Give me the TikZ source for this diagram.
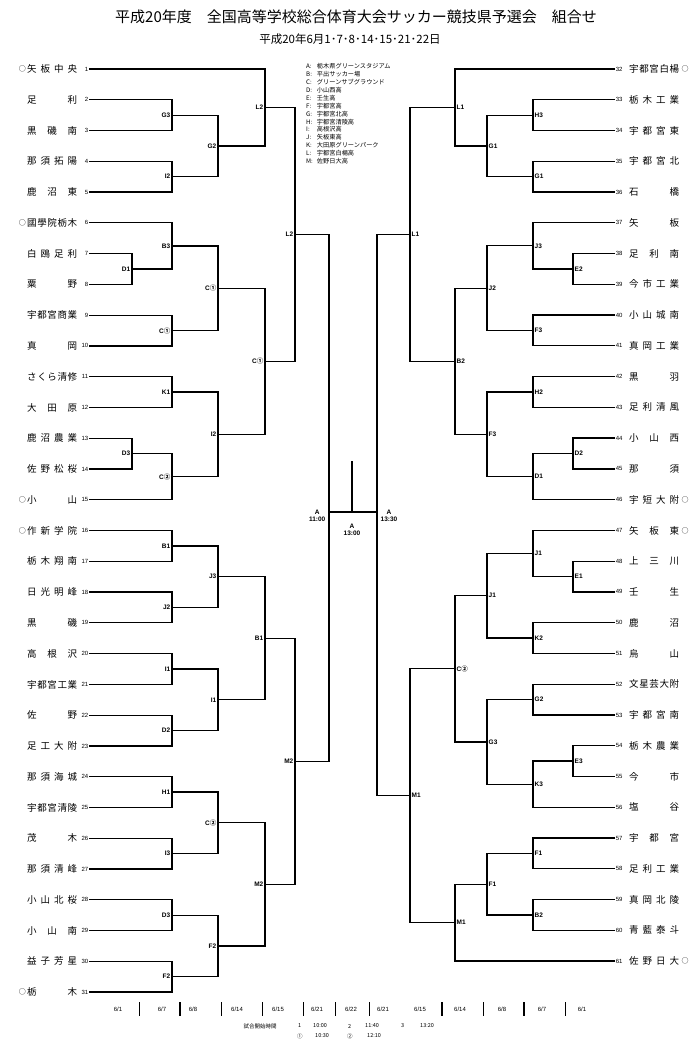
\documentclass[tikz,border=0pt]{standalone}
\usepackage{fontspec}
\setmainfont{Liberation Sans}
\newfontfamily\jp{Noto Sans CJK JP}
\usetikzlibrary{positioning}
\usetikzlibrary{calc}

% spread the characters of a name over a fixed width
\def\sprchar#1#2{#1\ifx\relax#2\else\hfill\expandafter\sprchar\fi#2}
\newcommand\spreadname[2]{\makebox[#1][s]{\expandafter\sprchar#2\relax}}

% match: name, x of the bracket, first entry, second entry, label
\newcommand\match[5]{%
  \path let \p1=(#3), \p2=(#4) in coordinate[label={[lbl]#5}] (#1) at (#2pt,{0.5*\y1+0.5*\y2});
  \draw[bracket] (#3) -| (#1);
  \draw[bracket] (#4) -| (#1);
}

\begin{document}
\begin{tikzpicture}[x=1pt, y=-1pt, label distance=1pt,
                          bracket/.style={line width=1.25pt},
                          num/.style={font=\fontsize{6}{6}\selectfont, inner sep=0.6pt},
                          team/.style={font=\jp\fontsize{9.5}{10}\selectfont, inner sep=0pt},
                          seed/.style={font=\jp\fontsize{7}{7}\selectfont, inner sep=0pt},
                          lbl/.style={font=\bfseries\fontsize{6.5}{7}\selectfont, inner sep=0.5pt},
                          datetext/.style={font=\fontsize{6}{7}\selectfont, inner sep=0pt},
                          timetext/.style={font=\jp\fontsize{5.5}{6}\selectfont, inner sep=0pt, anchor=west},
                          tick/.style={line width=0.6pt},
                          thicktick/.style={line width=1.4pt},
                      ]
                      \useasboundingbox (0,0) rectangle (700,1056);

                      % Title
                      \node[font=\jp\fontsize{15}{16}\selectfont] (title) at (356,17) {平成20年度　全国高等学校総合体育大会サッカー競技県予選会　組合せ};
                      \node[font=\jp\fontsize{11.5}{12}\selectfont] (days) at (350,39) {平成20年6月1･7･8･14･15･21･22日};

                      % Venues
                      \node[anchor=north west, inner sep=0pt, font=\jp\fontsize{6.2}{7.9}\selectfont] (venues) at (306,63) {%
                        \begin{tabular}{@{}l@{\hspace{4pt}}l@{}}
                          A: & 栃木県グリーンスタジアム\\
                          B: & 平出サッカー場\\
                          C: & グリーンサブグラウンド\\
                          D: & 小山西高\\
                          E: & 壬生高\\
                          F: & 宇都宮高\\
                          G: & 宇都宮北高\\
                          H: & 宇都宮清陵高\\
                          I: & 高根沢高\\
                          J: & 矢板東高\\
                          K: & 大田原グリーンパーク\\
                          L: & 宇都宮白楊高\\
                          M: & 佐野日大高
                        \end{tabular}};

                      % Teams, left
                      \foreach \n/\nm/\sd in {1/矢板中央/1, 2/足利/0, 3/黒磯南/0, 4/那須拓陽/0, 5/鹿沼東/0,
                          6/國學院栃木/1, 7/白鴎足利/0, 8/粟野/0, 9/宇都宮商業/0, 10/真岡/0,
                          11/さくら清修/0, 12/大田原/0, 13/鹿沼農業/0, 14/佐野松桜/0, 15/小山/1,
                          16/作新学院/1, 17/栃木翔南/0, 18/日光明峰/0, 19/黒磯/0, 20/高根沢/0,
                          21/宇都宮工業/0, 22/佐野/0, 23/足工大附/0, 24/那須海城/0, 25/宇都宮清陵/0,
                          26/茂木/0, 27/那須清峰/0, 28/小山北桜/0, 29/小山南/0, 30/益子芳星/0, 31/栃木/1}{
                        \pgfmathsetmacro\ty{69+(\n-1)*30.77}
                        \node[num, anchor=east] (n\n) at (89,\ty) {\n};
                        \node[team, anchor=west] (t\n) at (27,\ty) {\spreadname{50pt}{\nm}};
                        \ifnum\sd=1 \node[seed, left=1pt of t\n] {○};\fi
                      }

                      % Teams, right
                      \foreach \n/\nm/\sd in {32/宇都宮白楊/1, 33/栃木工業/0, 34/宇都宮東/0, 35/宇都宮北/0, 36/石橋/0,
                          37/矢板/0, 38/足利南/0, 39/今市工業/0, 40/小山城南/0, 41/真岡工業/0,
                          42/黒羽/0, 43/足利清風/0, 44/小山西/0, 45/那須/0, 46/宇短大附/1,
                          47/矢板東/1, 48/上三川/0, 49/壬生/0, 50/鹿沼/0, 51/烏山/0,
                          52/文星芸大附/0, 53/宇都宮南/0, 54/栃木農業/0, 55/今市/0, 56/塩谷/0,
                          57/宇都宮/0, 58/足利工業/0, 59/真岡北陵/0, 60/青藍泰斗/0, 61/佐野日大/1}{
                        \pgfmathsetmacro\ty{69+(\n-32)*30.76}
                        \node[num, anchor=west] (n\n) at (615,\ty) {\n};
                        \node[team, anchor=west] (t\n) at (629,\ty) {\spreadname{50pt}{\nm}};
                        \ifnum\sd=1 \node[seed, right=2pt of t\n] {○};\fi
                      }

                      % Left half
                      \match{d1_l}{132}{n7}{n8}{left:D1}
                      \match{d3_l1}{132}{n13}{n14}{left:D3}
                      \match{g3_l}{172}{n2}{n3}{left:G3}
                      \match{i2_l1}{172}{n4}{n5}{left:I2}
                      \match{b3_l}{172}{n6}{d1_l}{left:B3}
                      \match{c1_l1}{172}{n9}{n10}{left:C{\jp ①}}
                      \match{k1_l}{172}{n11}{n12}{left:K1}
                      \match{c2_l1}{172}{d3_l1}{n15}{left:C{\jp ②}}
                      \match{b1_l1}{172}{n16}{n17}{left:B1}
                      \match{j2_l}{172}{n18}{n19}{left:J2}
                      \match{i1_l1}{172}{n20}{n21}{left:I1}
                      \match{d2_l}{172}{n22}{n23}{left:D2}
                      \match{h1_l}{172}{n24}{n25}{left:H1}
                      \match{i3_l}{172}{n26}{n27}{left:I3}
                      \match{d3_l2}{172}{n28}{n29}{left:D3}
                      \match{f2_l1}{172}{n30}{n31}{left:F2}
                      \match{g2_l}{218}{g3_l}{i2_l1}{left:G2}
                      \match{c1_l2}{218}{b3_l}{c1_l1}{left:C{\jp ①}}
                      \match{i2_l2}{218}{k1_l}{c2_l1}{left:I2}
                      \match{j3_l}{218}{b1_l1}{j2_l}{left:J3}
                      \match{i1_l2}{218}{i1_l1}{d2_l}{left:I1}
                      \match{c2_l2}{218}{h1_l}{i3_l}{left:C{\jp ②}}
                      \match{f2_l2}{218}{d3_l2}{f2_l1}{left:F2}
                      \match{l2_l1}{265}{n1}{g2_l}{left:L2}
                      \match{c1_l3}{265}{c1_l2}{i2_l2}{left:C{\jp ①}}
                      \match{b1_l2}{265}{j3_l}{i1_l2}{left:B1}
                      \match{m2_l1}{265}{c2_l2}{f2_l2}{left:M2}
                      \match{l2_l2}{295}{l2_l1}{c1_l3}{left:L2}
                      \match{m2_l2}{295}{b1_l2}{m2_l1}{left:M2}

                      % Right half
                      \match{e2_r}{573}{n38}{n39}{right:E2}
                      \match{d2_r}{573}{n44}{n45}{right:D2}
                      \match{e1_r}{573}{n48}{n49}{right:E1}
                      \match{e3_r}{573}{n54}{n55}{right:E3}
                      \match{h3_r}{533}{n33}{n34}{right:H3}
                      \match{g1_r1}{533}{n35}{n36}{right:G1}
                      \match{j3_r}{533}{n37}{e2_r}{right:J3}
                      \match{f3_r1}{533}{n40}{n41}{right:F3}
                      \match{h2_r}{533}{n42}{n43}{right:H2}
                      \match{d1_r}{533}{d2_r}{n46}{right:D1}
                      \match{j1_r1}{533}{n47}{e1_r}{right:J1}
                      \match{k2_r}{533}{n50}{n51}{right:K2}
                      \match{g2_r}{533}{n52}{n53}{right:G2}
                      \match{k3_r}{533}{e3_r}{n56}{right:K3}
                      \match{f1_r1}{533}{n57}{n58}{right:F1}
                      \match{b2_r1}{533}{n59}{n60}{right:B2}
                      \match{g1_r2}{487}{h3_r}{g1_r1}{right:G1}
                      \match{j2_r}{487}{j3_r}{f3_r1}{right:J2}
                      \match{f3_r2}{487}{h2_r}{d1_r}{right:F3}
                      \match{j1_r2}{487}{j1_r1}{k2_r}{right:J1}
                      \match{g3_r}{487}{g2_r}{k3_r}{right:G3}
                      \match{f1_r2}{487}{f1_r1}{b2_r1}{right:F1}
                      \match{l1_r1}{455}{n32}{g1_r2}{right:L1}
                      \match{b2_r2}{455}{j2_r}{f3_r2}{right:B2}
                      \match{c2_r}{455}{j1_r2}{g3_r}{right:C{\jp ②}}
                      \match{m1_r1}{455}{f1_r2}{n61}{right:M1}
                      \match{l1_r2}{410}{l1_r1}{b2_r2}{right:L1}
                      \match{m1_r2}{410}{c2_r}{m1_r1}{right:M1}

                      % Semi-finals and final
                      \coordinate (semi_l) at (329,512);
                      \coordinate (semi_r) at (377,512);
                      \coordinate (final) at (352,512);
                      \coordinate (cup) at (352,461);
                      \draw[bracket] (l2_l2) -| (semi_l);
                      \draw[bracket] (m2_l2) -| (semi_l);
                      \draw[bracket] (l1_r2) -| (semi_r);
                      \draw[bracket] (m1_r2) -| (semi_r);
                      \draw[bracket] (semi_l) -- (semi_r);
                      \draw[bracket] (final) -- (cup);
                      \node[lbl, align=center, anchor=east] (time_l) at (326,516) {A\\11:00};
                      \node[lbl, align=center, anchor=west] (time_r) at (380,516) {A\\13:30};
                      \node[lbl, align=center, anchor=north] (time_f) at (352,523) {A\\13:00};

                      % Days
                      \foreach \x/\d in {118/1, 162/7, 193/8, 237/14, 278/15, 317/21, 351/22,
                          383/21, 420/15, 460/14, 502/8, 542/7, 582/1}{
                        \node[datetext] at (\x,1009) {6/\d};
                      }
                      \foreach \x in {139, 221, 262, 303, 335, 369, 483, 565}{
                        \draw[tick] (\x,1002) -- (\x,1016);
                      }
                      \foreach \x in {180, 442, 524}{
                        \draw[thicktick] (\x,1002) -- (\x,1016);
                      }

                      % Kick-off times
                      \node[font=\jp\fontsize{5.5}{6}\selectfont, inner sep=0pt] (kickoff) at (260,1026) {試合開始時間};
                      \node[timetext] at (298,1026) {1};
                      \node[timetext] at (313,1026) {10:00};
                      \node[timetext] at (348,1026) {2};
                      \node[timetext] at (365,1026) {11:40};
                      \node[timetext] at (401,1026) {3};
                      \node[timetext] at (420,1026) {13:20};
                      \node[timetext] at (297,1036) {①};
                      \node[timetext] at (315,1036) {10:30};
                      \node[timetext] at (347,1036) {②};
                      \node[timetext] at (367,1036) {12:10};
                  \end{tikzpicture}
\end{document}
